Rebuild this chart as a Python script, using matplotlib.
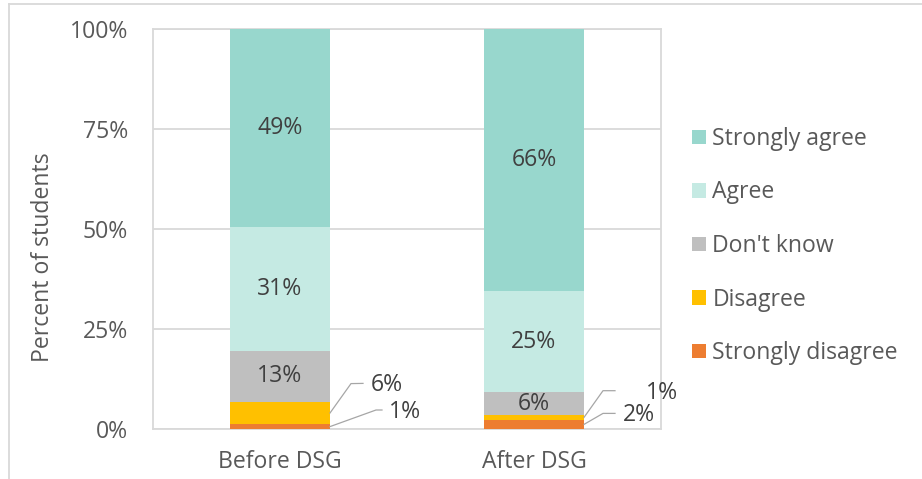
import matplotlib
matplotlib.use("Agg")
import matplotlib.pyplot as plt
from matplotlib.lines import Line2D
import numpy as np

# ---- data ----
categories = ["Before DSG", "After DSG"]
series_names = ["Strongly disagree", "Disagree", "Don't know", "Agree", "Strongly agree"]
strongly_disagree = [1.2, 2.3]
disagree = [5.6, 1.2]
dont_know = [12.8, 5.7]
agree = [31.0, 25.2]
strongly_agree = [49.4, 65.6]
y_ticks = [0, 25, 50, 75, 100]
y_tick_labels = ["0%", "25%", "50%", "75%", "100%"]

series = [strongly_disagree, disagree, dont_know, agree, strongly_agree]
colors = ["#ED7D31", "#FFC000", "#BFBFBF", "#C5EAE3", "#98D7CD"]
outside_series = {"Strongly disagree", "Disagree"}

FONT = "Open Sans"
TXT = "#595959"
LBL = "#404040"
GRID = "#D9D9D9"
FS = 16.6

W, H = 922, 479
plt.rcParams["font.family"] = [FONT, "DejaVu Sans"]
fig = plt.figure(figsize=(W / 100, H / 100), dpi=100)

# figure border (top + left visible)
fig.add_artist(Line2D([9 / W, 1.0], [1 - 4 / H, 1 - 4 / H], color=GRID, lw=1.3, transform=fig.transFigure))
fig.add_artist(Line2D([9 / W, 9 / W], [1 - 4 / H, 0.0], color=GRID, lw=1.3, transform=fig.transFigure))

L, R, T, B = 153, 661, 29, 429
ax = fig.add_axes([L / W, 1 - B / H, (R - L) / W, (B - T) / H])
ax.set_xlim(-0.5, 1.5)
ax.set_ylim(0, 100)

x = np.arange(len(categories))
width = 100 / ((R - L) / 2)
bottom = np.zeros(len(categories))
containers = []
for name, vals, c in zip(series_names, series, colors):
    bc = ax.bar(x, vals, width, bottom=bottom, color=c, label=name, zorder=3, linewidth=0)
    containers.append(bc)
    bottom = bottom + np.array(vals)

ax.set_yticks(y_ticks)
ax.set_yticklabels(y_tick_labels)
ax.set_xticks(x)
ax.set_xticklabels(categories)
ax.tick_params(axis="both", length=0, labelsize=FS, labelcolor=TXT)
ax.tick_params(axis="y", pad=18)
ax.tick_params(axis="x", pad=15)
ax.yaxis.grid(True, color=GRID, lw=1.3, zorder=0)
ax.set_axisbelow(True)
for s in ax.spines.values():
    s.set_color(GRID)
    s.set_linewidth(1.3)

fig.text(43 / W, 1 - 257 / H, "Percent of students", rotation=90, ha="center", va="center",
         fontsize=FS, color=TXT)

fig.canvas.draw()
bottom = np.zeros(len(categories))
outside = {}
for si, (name, vals) in enumerate(zip(series_names, series)):
    for i, v in enumerate(vals):
        yc = bottom[i] + v / 2
        lab = f"{round(v):d}%"
        if name not in outside_series:
            ax.text(x[i], yc, lab, ha="center", va="center", fontsize=FS, color=LBL, zorder=4)
        else:
            outside[(si, i)] = (x[i] + width / 2, yc, lab)
    bottom = bottom + np.array(vals)

# leader-line label layout (pixel offsets: elbow, line end, text start)
layout = {
    (1, 0): ((21, 29.4), (33, 29.6), (41, 28)),
    (0, 0): ((46, 16.6), (52, 16.6), (59, 15)),
    (1, 1): ((19, 26.7), (31, 26.7), (62, 24.7)),
    (0, 1): ((19, 11.0), (31, 11.0), (39, 9.4)),
}
inv = ax.transData.inverted()
for key, (xa, ya, lab) in outside.items():
    (ex, ey), (lx, ly), (tx, ty) = layout[key]
    px, py = ax.transData.transform((xa, ya))
    pts = [(px, py), (px + ex, py + ey), (px + lx, py + ly)]
    dpts = inv.transform(pts)
    ax.plot(dpts[:, 0], dpts[:, 1], color="#A6A6A6", lw=0.9, zorder=4, clip_on=False)
    tpos = inv.transform((px + tx, py + ty))
    ax.text(tpos[0], tpos[1], lab, ha="left", va="center", fontsize=FS, color=LBL, clip_on=False)

handles = containers[::-1]
labels = series_names[::-1]
leg = ax.legend(handles, labels, loc="center left", bbox_to_anchor=(692 / W, 1 - 246 / H),
                bbox_transform=fig.transFigure, frameon=False, fontsize=FS, labelcolor=TXT,
                handlelength=0.6, handleheight=0.6, handletextpad=0.28, labelspacing=1.28,
                borderpad=0, borderaxespad=0)

fig.savefig("out.png", dpi=100)
